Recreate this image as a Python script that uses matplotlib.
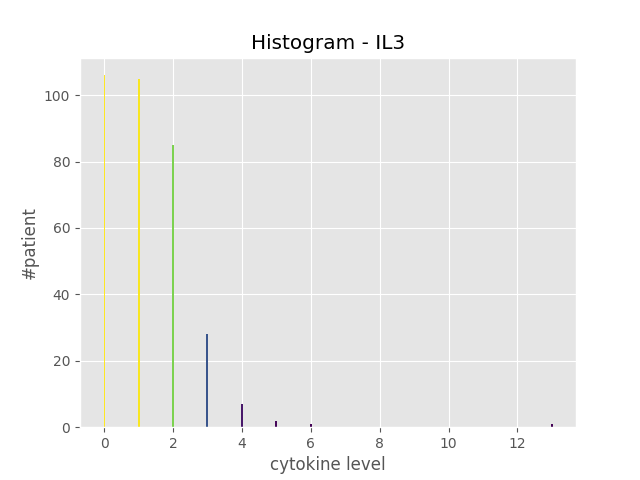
import matplotlib
matplotlib.use("Agg")
import matplotlib.pyplot as plt
import numpy as np

plt.style.use("ggplot")

levels = [0, 1, 2, 3, 4, 5, 6, 13]
counts = [106, 105, 85, 28, 7, 2, 1, 1]
widths = [0.03, 0.06, 0.06, 0.06, 0.06, 0.06, 0.06, 0.06]

cmap = plt.get_cmap("viridis")
colors = [cmap(c / max(counts)) for c in counts]

fig, ax = plt.subplots(figsize=(6.4, 4.8), dpi=100)
ax.bar(levels, counts, width=widths, color=colors, align="center")
ax.set_xlim(-0.7, 13.7)
ax.set_xticks(range(0, 14, 2))
ax.set_title("Histogram - IL3")
ax.set_xlabel("cytokine level")
ax.set_ylabel("#patient")
plt.savefig("out.png")
